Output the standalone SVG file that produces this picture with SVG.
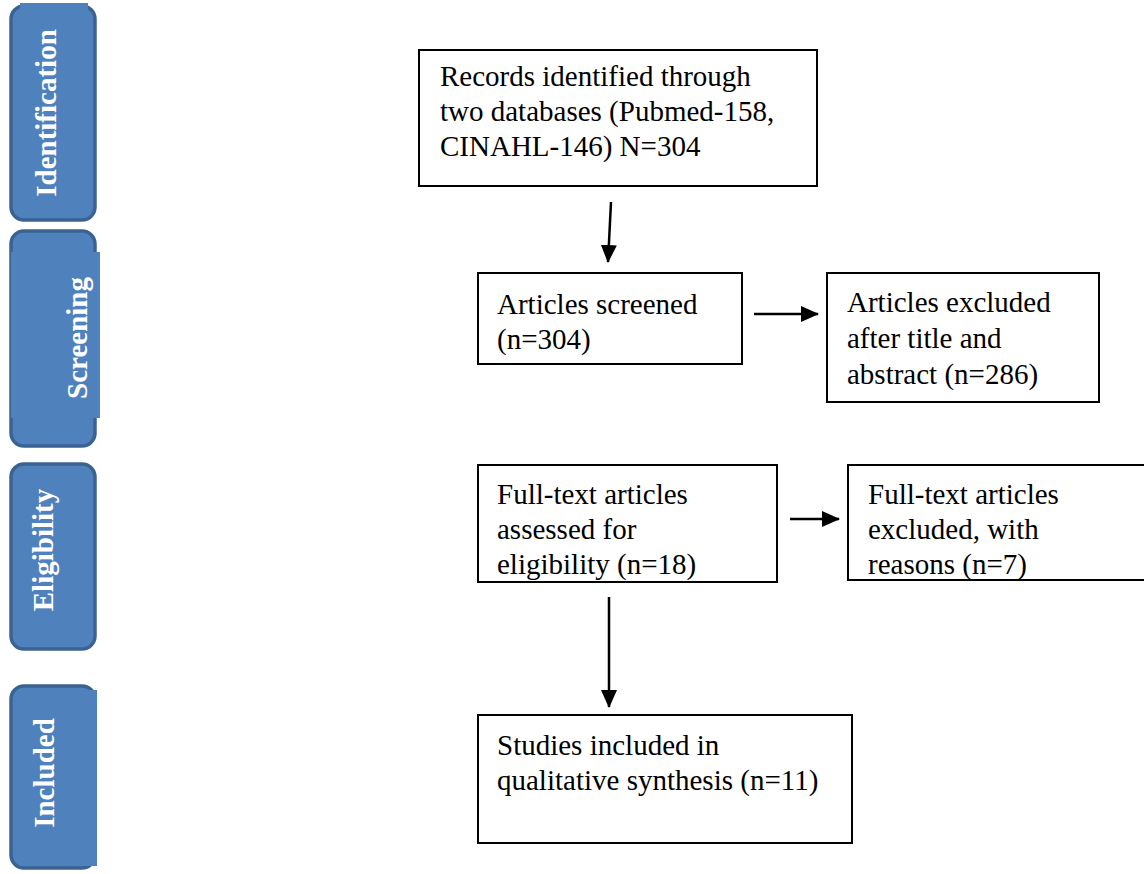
<svg xmlns="http://www.w3.org/2000/svg" width="1144" height="874" viewBox="0 0 1144 874">
<style>
.panel{fill:#4F81BD;stroke:#3A6392;stroke-width:3.5}
.patch{fill:#4F81BD;stroke:none}
.ptxt{font-family:"Liberation Serif",serif;font-weight:bold;font-size:29px;fill:#FFFFFF;text-anchor:middle}
.box{fill:#FFFFFF;stroke:#000000;stroke-width:2}
.txt{font-family:"Liberation Serif",serif;font-size:29px;fill:#000000}
.conn{stroke:#000000;stroke-width:2.5;fill:none;marker-end:url(#ah)}
</style>
<defs>
<marker id="ah" markerUnits="userSpaceOnUse" markerWidth="18" markerHeight="16" refX="17" refY="8" orient="auto">
<path d="M0,0 L18,8 L0,16 Z" fill="#000000"/>
</marker>
</defs>
<rect width="1144" height="874" fill="#FFFFFF"/>

<g id="panel-identification">
<rect class="panel" x="11" y="6" width="84" height="214" rx="13"/>
<rect class="patch" x="20" y="3" width="68" height="30"/>
<text class="ptxt" transform="translate(56,113) rotate(-90)">Identification</text>
</g>
<g id="panel-screening">
<rect class="panel" x="11" y="231" width="84" height="215" rx="13"/>
<rect class="patch" x="11" y="252" width="89" height="166"/>
<text class="ptxt" transform="translate(87,338) rotate(-90)">Screening</text>
</g>
<g id="panel-eligibility">
<rect class="panel" x="11" y="464" width="84" height="185" rx="13"/>
<text class="ptxt" transform="translate(53,550) rotate(-90)">Eligibility</text>
</g>
<g id="panel-included">
<rect class="panel" x="11" y="686" width="84" height="182" rx="13"/>
<rect class="patch" x="20" y="690" width="77" height="176"/>
<text class="ptxt" transform="translate(54,773) rotate(-90)">Included</text>
</g>

<g id="node-records">
<rect class="box" x="419" y="50" width="398" height="136"/>
<text class="txt" x="440" y="86">Records identified through</text>
<text class="txt" x="440" y="121">two databases (Pubmed-158,</text>
<text class="txt" x="440" y="156">CINAHL-146) N=304</text>
</g>
<g id="node-screened">
<rect class="box" x="478" y="273" width="264" height="91"/>
<text class="txt" x="497" y="314">Articles screened</text>
<text class="txt" x="497" y="349">(n=304)</text>
</g>
<g id="node-excluded-title">
<rect class="box" x="827" y="273" width="272" height="129"/>
<text class="txt" x="847" y="312">Articles excluded</text>
<text class="txt" x="847" y="348">after title and</text>
<text class="txt" x="847" y="384">abstract (n=286)</text>
</g>
<g id="node-fulltext">
<rect class="box" x="478" y="465" width="299" height="117"/>
<text class="txt" x="497" y="504">Full-text articles</text>
<text class="txt" x="497" y="539">assessed for</text>
<text class="txt" x="497" y="574">eligibility (n=18)</text>
</g>
<g id="node-fulltext-excluded">
<rect class="box" x="848" y="465" width="310" height="115"/>
<text class="txt" x="868" y="504">Full-text articles</text>
<text class="txt" x="868" y="539">excluded, with</text>
<text class="txt" x="868" y="574">reasons (n=7)</text>
</g>
<g id="node-included">
<rect class="box" x="478" y="715" width="374" height="128"/>
<text class="txt" x="497" y="755">Studies included in</text>
<text class="txt" x="497" y="790">qualitative synthesis (n=11)</text>
</g>

<g id="connectors">
<line class="conn" x1="611" y1="202" x2="608" y2="262"/>
<line class="conn" x1="754" y1="314" x2="818" y2="314"/>
<line class="conn" x1="790" y1="519" x2="839" y2="519"/>
<line class="conn" x1="609" y1="597" x2="609" y2="707"/>
</g>
</svg>
